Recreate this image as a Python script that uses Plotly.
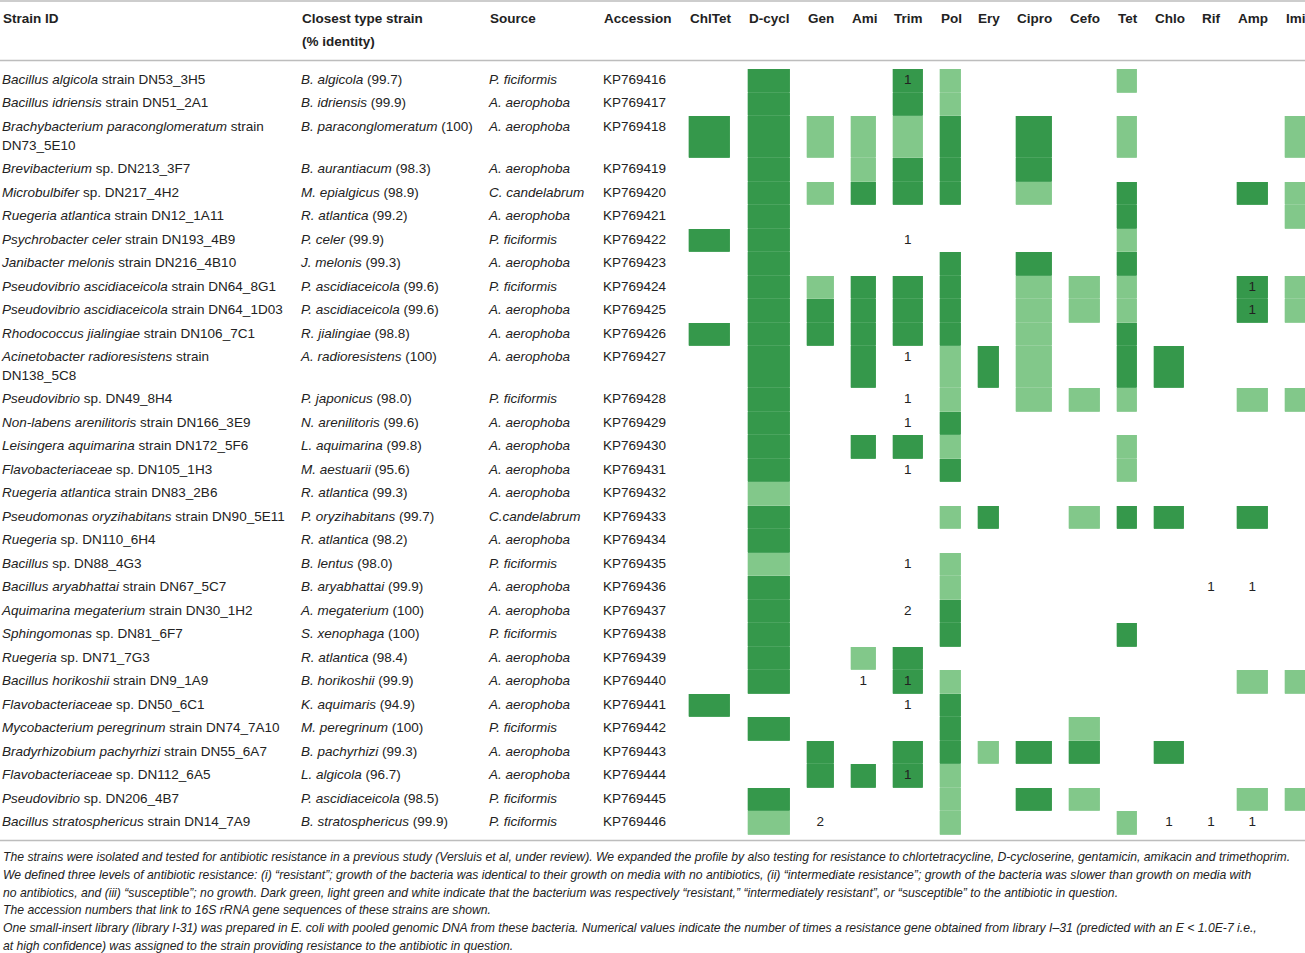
import plotly.graph_objects as go

# ---- data -------------------------------------------------------------
antibiotics = ["ChlTet", "D-cycl", "Gen", "Ami", "Trim", "Pol", "Ery",
               "Cipro", "Cefo", "Tet", "Chlo", "Rif", "Amp", "Imi"]

strain_ids = [
    "<i>Bacillus algicola</i> strain DN53_3H5",
    "<i>Bacillus idriensis</i> strain DN51_2A1",
    "<i>Brachybacterium paraconglomeratum</i> strain<br>DN73_5E10",
    "<i>Brevibacterium</i> sp. DN213_3F7",
    "<i>Microbulbifer</i> sp. DN217_4H2",
    "<i>Ruegeria atlantica</i> strain DN12_1A11",
    "<i>Psychrobacter celer</i> strain DN193_4B9",
    "<i>Janibacter melonis</i> strain DN216_4B10",
    "<i>Pseudovibrio ascidiaceicola</i> strain DN64_8G1",
    "<i>Pseudovibrio ascidiaceicola</i> strain DN64_1D03",
    "<i>Rhodococcus jialingiae</i> strain DN106_7C1",
    "<i>Acinetobacter radioresistens</i> strain<br>DN138_5C8",
    "<i>Pseudovibrio</i> sp. DN49_8H4",
    "<i>Non-labens arenilitoris</i> strain DN166_3E9",
    "<i>Leisingera aquimarina</i> strain DN172_5F6",
    "<i>Flavobacteriaceae</i> sp. DN105_1H3",
    "<i>Ruegeria atlantica</i> strain DN83_2B6",
    "<i>Pseudomonas oryzihabitans</i> strain DN90_5E11",
    "<i>Ruegeria</i> sp. DN110_6H4",
    "<i>Bacillus</i> sp. DN88_4G3",
    "<i>Bacillus aryabhattai</i> strain DN67_5C7",
    "<i>Aquimarina megaterium</i> strain DN30_1H2",
    "<i>Sphingomonas</i> sp. DN81_6F7",
    "<i>Ruegeria</i> sp. DN71_7G3",
    "<i>Bacillus horikoshii</i> strain DN9_1A9",
    "<i>Flavobacteriaceae</i> sp. DN50_6C1",
    "<i>Mycobacterium peregrinum</i> strain DN74_7A10",
    "<i>Bradyrhizobium pachyrhizi</i> strain DN55_6A7",
    "<i>Flavobacteriaceae</i> sp. DN112_6A5",
    "<i>Pseudovibrio</i> sp. DN206_4B7",
    "<i>Bacillus stratosphericus</i> strain DN14_7A9",
]

closest_type = [
    "<i>B. algicola</i> (99.7)", "<i>B. idriensis</i> (99.9)",
    "<i>B. paraconglomeratum</i> (100)", "<i>B. aurantiacum</i> (98.3)",
    "<i>M. epialgicus</i> (98.9)", "<i>R. atlantica</i> (99.2)",
    "<i>P. celer</i> (99.9)", "<i>J. melonis</i> (99.3)",
    "<i>P. ascidiaceicola</i> (99.6)", "<i>P. ascidiaceicola</i> (99.6)",
    "<i>R. jialingiae</i> (98.8)", "<i>A. radioresistens</i> (100)",
    "<i>P. japonicus</i> (98.0)", "<i>N. arenilitoris</i> (99.6)",
    "<i>L. aquimarina</i> (99.8)", "<i>M. aestuarii</i> (95.6)",
    "<i>R. atlantica</i> (99.3)", "<i>P. oryzihabitans</i> (99.7)",
    "<i>R. atlantica</i> (98.2)", "<i>B. lentus</i> (98.0)",
    "<i>B. aryabhattai</i> (99.9)", "<i>A. megaterium</i> (100)",
    "<i>S. xenophaga</i> (100)", "<i>R. atlantica</i> (98.4)",
    "<i>B. horikoshii</i> (99.9)", "<i>K. aquimaris</i> (94.9)",
    "<i>M. peregrinum</i> (100)", "<i>B. pachyrhizi</i> (99.3)",
    "<i>L. algicola</i> (96.7)", "<i>P. ascidiaceicola</i> (98.5)",
    "<i>B. stratosphericus</i> (99.9)",
]

sources = [
    "P. ficiformis", "A. aerophoba", "A. aerophoba", "A. aerophoba",
    "C. candelabrum", "A. aerophoba", "P. ficiformis", "A. aerophoba",
    "P. ficiformis", "A. aerophoba", "A. aerophoba", "A. aerophoba",
    "P. ficiformis", "A. aerophoba", "A. aerophoba", "A. aerophoba",
    "A. aerophoba", "C.candelabrum", "A. aerophoba", "P. ficiformis",
    "A. aerophoba", "A. aerophoba", "P. ficiformis", "A. aerophoba",
    "A. aerophoba", "A. aerophoba", "P. ficiformis", "A. aerophoba",
    "A. aerophoba", "P. ficiformis", "P. ficiformis",
]

accessions = [
    "KP769416", "KP769417", "KP769418", "KP769419", "KP769420", "KP769421",
    "KP769422", "KP769423", "KP769424", "KP769425", "KP769426", "KP769427",
    "KP769428", "KP769429", "KP769430", "KP769431", "KP769432", "KP769433",
    "KP769434", "KP769435", "KP769436", "KP769437", "KP769438", "KP769439",
    "KP769440", "KP769441", "KP769442", "KP769443", "KP769444", "KP769445",
    "KP769446",
]

# 0 = susceptible, 1 = intermediate, 2 = resistant
resistance = [
    [0, 2, 0, 0, 2, 1, 0, 0, 0, 1, 0, 0, 0, 0],
    [0, 2, 0, 0, 2, 1, 0, 0, 0, 0, 0, 0, 0, 0],
    [2, 2, 1, 1, 1, 2, 0, 2, 0, 1, 0, 0, 0, 1],
    [0, 2, 0, 1, 2, 2, 0, 2, 0, 0, 0, 0, 0, 0],
    [0, 2, 1, 2, 2, 2, 0, 1, 0, 2, 0, 0, 2, 1],
    [0, 2, 0, 0, 0, 0, 0, 0, 0, 2, 0, 0, 0, 1],
    [2, 2, 0, 0, 0, 0, 0, 0, 0, 1, 0, 0, 0, 0],
    [0, 2, 0, 0, 0, 2, 0, 2, 0, 2, 0, 0, 0, 0],
    [0, 2, 1, 2, 2, 2, 0, 1, 1, 1, 0, 0, 2, 1],
    [0, 2, 2, 2, 2, 2, 0, 1, 1, 1, 0, 0, 2, 1],
    [2, 2, 2, 2, 2, 2, 0, 1, 0, 2, 0, 0, 0, 0],
    [0, 2, 0, 2, 0, 1, 2, 1, 0, 2, 2, 0, 0, 0],
    [0, 2, 0, 0, 0, 1, 0, 1, 1, 1, 0, 0, 1, 1],
    [0, 2, 0, 0, 0, 2, 0, 0, 0, 0, 0, 0, 0, 0],
    [0, 2, 0, 2, 2, 1, 0, 0, 0, 1, 0, 0, 0, 0],
    [0, 2, 0, 0, 0, 2, 0, 0, 0, 1, 0, 0, 0, 0],
    [0, 1, 0, 0, 0, 0, 0, 0, 0, 0, 0, 0, 0, 0],
    [0, 2, 0, 0, 0, 1, 2, 0, 1, 2, 2, 0, 2, 0],
    [0, 2, 0, 0, 0, 0, 0, 0, 0, 0, 0, 0, 0, 0],
    [0, 1, 0, 0, 0, 1, 0, 0, 0, 0, 0, 0, 0, 0],
    [0, 2, 0, 0, 0, 1, 0, 0, 0, 0, 0, 0, 0, 0],
    [0, 2, 0, 0, 0, 2, 0, 0, 0, 0, 0, 0, 0, 0],
    [0, 2, 0, 0, 0, 2, 0, 0, 0, 2, 0, 0, 0, 0],
    [0, 2, 0, 1, 2, 0, 0, 0, 0, 0, 0, 0, 0, 0],
    [0, 2, 0, 0, 2, 1, 0, 0, 0, 0, 0, 0, 1, 1],
    [2, 0, 0, 0, 0, 2, 0, 0, 0, 0, 0, 0, 0, 0],
    [0, 2, 0, 0, 0, 2, 0, 0, 1, 0, 0, 0, 0, 0],
    [0, 0, 2, 0, 2, 2, 1, 2, 2, 0, 2, 0, 0, 0],
    [0, 0, 2, 2, 2, 1, 0, 0, 0, 0, 0, 0, 0, 0],
    [0, 2, 0, 0, 0, 1, 0, 2, 1, 0, 0, 0, 1, 1],
    [0, 1, 0, 0, 0, 1, 0, 0, 0, 1, 0, 0, 0, 0],
]

# library I-31 hits: (row, antibiotic, count)
gene_hits = [
    (0, "Trim", 1), (6, "Trim", 1), (8, "Amp", 1), (9, "Amp", 1),
    (11, "Trim", 1), (12, "Trim", 1), (13, "Trim", 1), (15, "Trim", 1),
    (19, "Trim", 1), (20, "Rif", 1), (20, "Amp", 1), (21, "Trim", 2),
    (24, "Ami", 1), (24, "Trim", 1), (25, "Trim", 1), (28, "Trim", 1),
    (30, "Gen", 2), (30, "Chlo", 1), (30, "Rif", 1), (30, "Amp", 1),
]

footnotes = [
    "The strains were isolated and tested for antibiotic resistance in a previous study (Versluis et al, under review). We expanded the profile by also testing for resistance to chlortetracycline, D-cycloserine, gentamicin, amikacin and trimethoprim.",
    "We defined three levels of antibiotic resistance: (i) \u201cresistant\u201d; growth of the bacteria was identical to their growth on media with no antibiotics, (ii) \u201cintermediate resistance\u201d; growth of the bacteria was slower than growth on media with",
    "no antibiotics, and (iii) \u201csusceptible\u201d; no growth. Dark green, light green and white indicate that the bacterium was respectively \u201cresistant,\u201d \u201cintermediately resistant\u201d, or \u201csusceptible\u201d to the antibiotic in question.",
    "The accession numbers that link to 16S rRNA gene sequences of these strains are shown.",
    "One small-insert library (library I-31) was prepared in E. coli with pooled genomic DNA from these bacteria. Numerical values indicate the number of times a resistance gene obtained from library I\u201331 (predicted with an E &lt; 1.0E-7 i.e.,",
    "at high confidence) was assigned to the strain providing resistance to the antibiotic in question.",
]

# ---- layout (pixel coordinates) ----------------------------------------
W, H = 1305, 953
FONT = "Liberation Sans"
FS = 13.5
TXT = "#222222"
DARK, LIGHT = "#35984b", "#82c88a"
DARK_SEP, LIGHT_SEP = "#4aa45e", "#95d09c"

text_cols_x = [2, 301, 489, 603]
col_left = [688.8, 747.8, 807, 850.6, 893.2, 939.5, 977.3, 1016, 1069,
            1117.2, 1153.9, 1201, 1236.8, 1284.6]
col_width = [41.4, 42.2, 26.4, 25.4, 29.1, 21.1, 21.6, 35.9, 31, 20,
             30.3, 20, 30.7, 26]
TABLE_TOP = 69
ROW_H, EXTRA_LINE = 23.5, 18.7
FIRST_LINE = 11.5

# row edges from line count of the strain text
row_top = [TABLE_TOP]
for s in strain_ids:
    nl = s.count("<br>") + 1
    row_top.append(row_top[-1] + ROW_H + (nl - 1) * EXTRA_LINE)

# heatmap edges with blank gaps between antibiotic columns
x_edges = []
for l, w in zip(col_left, col_width):
    x_edges += [l, l + w]
z = []
for row in resistance:
    zr = []
    for j, v in enumerate(row):
        zr.append(v)
        if j < len(row) - 1:
            zr.append(None)
    z.append(zr)


def scale(c_light, c_dark):
    return [[0, "#ffffff"], [0.33, "#ffffff"], [0.34, c_light],
            [0.66, c_light], [0.67, c_dark], [1, c_dark]]


fig = go.Figure()
# lighter under-layer shows through as thin row separators
fig.add_trace(go.Heatmap(
    x=x_edges, y=row_top, z=z, zmin=0, zmax=2,
    colorscale=scale(LIGHT_SEP, DARK_SEP), showscale=False, hoverinfo="skip",
))
fig.add_trace(go.Heatmap(
    x=x_edges, y=row_top, z=z, zmin=0, zmax=2, ygap=1,
    colorscale=scale(LIGHT, DARK), showscale=False, hoverinfo="skip",
))

# body text columns
for cx, col in zip(text_cols_x, [strain_ids, closest_type,
                                 ["<i>%s</i>" % s for s in sources],
                                 accessions]):
    xs, ys, ts = [], [], []
    for i, s in enumerate(col):
        for k, part in enumerate(s.split("<br>")):
            xs.append(cx)
            ys.append(row_top[i] + FIRST_LINE + k * EXTRA_LINE)
            ts.append(part)
    fig.add_trace(go.Scatter(
        x=xs, y=ys, text=ts, mode="text", textposition="middle right",
        textfont=dict(family=FONT, size=FS, color=TXT), hoverinfo="skip",
    ))

# gene hit counts inside cells
hx, hy, ht = [], [], []
for r, ab, n in gene_hits:
    j = antibiotics.index(ab)
    hx.append(col_left[j] + col_width[j] / 2)
    hy.append(row_top[r] + FIRST_LINE)
    ht.append(str(n))
fig.add_trace(go.Scatter(
    x=hx, y=hy, text=ht, mode="text", textposition="middle center",
    textfont=dict(family=FONT, size=FS, color=TXT), hoverinfo="skip",
))

# headers
headers = [("Strain ID", text_cols_x[0]), ("Closest type strain", text_cols_x[1]),
           ("Source", text_cols_x[2]), ("Accession", text_cols_x[3])]
headers += list(zip(antibiotics, col_left))
for label, x in headers:
    fig.add_annotation(x=x - 1, y=18, text="<b>%s</b>" % label, showarrow=False,
                       xanchor="left", yanchor="middle",
                       font=dict(family=FONT, size=FS, color=TXT))
fig.add_annotation(x=text_cols_x[1] - 1, y=41, text="<b>(% identity)</b>",
                   showarrow=False, xanchor="left", yanchor="middle",
                   font=dict(family=FONT, size=FS, color=TXT))

for k, line in enumerate(footnotes):
    fig.add_annotation(x=1, y=857 + k * 17.8, text="<i>%s</i>" % line,
                       showarrow=False, xanchor="left", yanchor="middle",
                       font=dict(family=FONT, size=12.2, color=TXT))

for yl in [1, 60.5, 840.5]:
    fig.add_shape(type="line", x0=0, x1=W, y0=yl, y1=yl,
                  line=dict(color="#bdbdbd", width=1.6))

fig.update_layout(
    width=W, height=H, margin=dict(l=0, r=0, t=0, b=0),
    paper_bgcolor="white", plot_bgcolor="white", showlegend=False,
    xaxis=dict(range=[0, W], visible=False, fixedrange=True),
    yaxis=dict(range=[H, 0], visible=False, fixedrange=True),
)

# page body has a default 8px margin; drop it so the figure fills the window
fig.write_html("out.html", config={"displayModeBar": False},
               post_script="document.body.style.margin='0';"
                           "document.body.style.overflow='hidden';")
